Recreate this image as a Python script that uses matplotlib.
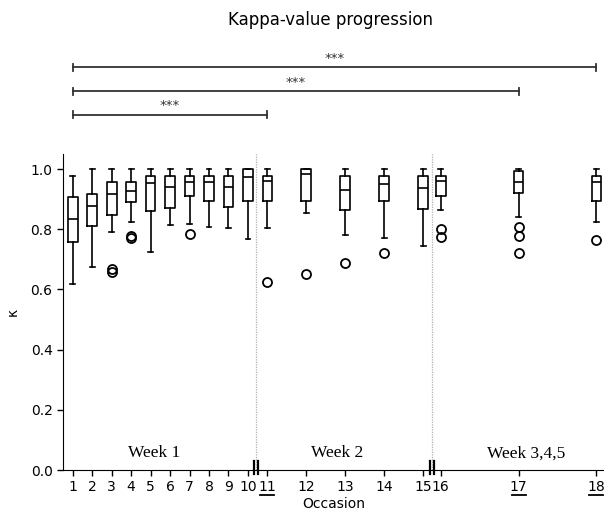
import matplotlib
matplotlib.use("Agg")
import matplotlib.pyplot as plt
import matplotlib.transforms as mtransforms

# Occasions and where they sit on the (broken) x axis
occasions = ["1", "2", "3", "4", "5", "6", "7", "8", "9", "10",
             "11", "12", "13", "14", "15", "16", "17", "18"]
positions = [1, 2, 3, 4, 5, 6, 7, 8, 9, 10,
             11, 13, 15, 17, 19, 19.9, 23.9, 27.9]
underlined = ["11", "17", "18"]

# Box statistics
whislo = [0.617, 0.675, 0.792, 0.825, 0.723, 0.814, 0.816, 0.808, 0.803, 0.766,
          0.803, 0.855, 0.781, 0.770, 0.744, 0.864, 0.842, 0.825]
q1 = [0.758, 0.811, 0.847, 0.890, 0.861, 0.871, 0.911, 0.894, 0.875, 0.894,
      0.894, 0.894, 0.864, 0.894, 0.866, 0.910, 0.922, 0.894]
med = [0.835, 0.877, 0.917, 0.927, 0.952, 0.941, 0.957, 0.957, 0.939, 0.972,
       0.959, 0.982, 0.930, 0.949, 0.936, 0.961, 0.958, 0.956]
q3 = [0.908, 0.916, 0.958, 0.958, 0.977, 0.977, 0.977, 0.977, 0.977, 1.000,
      0.977, 1.000, 0.977, 0.977, 0.977, 0.977, 0.994, 0.977]
whishi = [0.978, 1.000, 1.000, 1.000, 1.000, 1.000, 1.000, 1.000, 1.000, 1.000,
          1.000, 1.000, 1.000, 1.000, 1.000, 1.000, 1.000, 1.000]
fliers = [[], [], [0.668, 0.657], [0.777, 0.772], [], [], [0.783], [], [], [],
          [0.625], [0.650], [0.689], [0.722], [], [0.800, 0.775],
          [0.808, 0.777, 0.722], [0.764]]

# Significance brackets: occasion 1 vs these
sig_pairs = [("1", "11"), ("1", "17"), ("1", "18")]
sig_labels = ["***", "***", "***"]

weeks = ["Week 1", "Week 2", "Week 3,4,5"]
week_x = [5.2, 14.56, 24.3]
breaks_x = [10.42, 19.44]

stats = []
for i in range(len(occasions)):
    stats.append(dict(med=med[i], q1=q1[i], q3=q3[i], whislo=whislo[i],
                      whishi=whishi[i], fliers=fliers[i], label=occasions[i]))

fig = plt.figure(figsize=(6.04, 5.14), dpi=100)
ax = fig.add_axes([63 / 604, 44 / 514, 541 / 604, 316 / 514])

black = dict(color="black", linewidth=1.2)
ax.bxp(stats, positions=positions, widths=0.5,
       boxprops=black, whiskerprops=black, capprops=black,
       medianprops=black,
       flierprops=dict(marker="o", markerfacecolor="none",
                       markeredgecolor="black", markersize=6.5,
                       markeredgewidth=1.3))

ax.set_xlim(0.5, 28.29)
ax.set_ylim(0, 1.05)
ax.set_yticks([0.0, 0.2, 0.4, 0.6, 0.8, 1.0])
ax.set_yticklabels(["0.0", "0.2", "0.4", "0.6", "0.8", "1.0"], fontsize=10)
ax.set_xticks(positions)
ax.set_xticklabels(occasions, fontsize=10)
ax.tick_params(axis="both", direction="out", length=4, width=1)
ax.set_xlabel("Occasion", fontsize=10, labelpad=2)
ax.set_ylabel("κ", fontsize=10, labelpad=8)
ax.spines["top"].set_visible(False)
ax.spines["right"].set_visible(False)

# underline the compared occasions
trans = mtransforms.blended_transform_factory(ax.transData, ax.transAxes)
for o in underlined:
    px = positions[occasions.index(o)]
    ax.plot([px - 0.36, px + 0.36], [-0.08, -0.08], color="black",
            linewidth=1.3, transform=trans, clip_on=False)

# week separators and axis break marks
for bx in breaks_x:
    ax.axvline(bx, color="#b0b0b0", linewidth=0.9, linestyle=(0, (1, 1)),
               zorder=0)
    for dx in (-0.1, 0.1):
        ax.plot([bx + dx, bx + dx], [-0.013, 0.03], color="black",
                linewidth=1.6, clip_on=False, zorder=5)

for name, wx in zip(weeks, week_x):
    ax.text(wx, 0.056, name, ha="center", va="center", fontsize=12.5,
            family="Liberation Serif")

# significance brackets above the axes
sig_y = [1.181, 1.258, 1.338]
cap = 0.012
for (a, b), lab, y in zip(sig_pairs, sig_labels, sig_y):
    x0 = positions[occasions.index(a)]
    x1 = positions[occasions.index(b)]
    ax.plot([x0, x1], [y, y], color="#333333", linewidth=1.3, clip_on=False)
    ax.plot([x0, x0], [y - cap, y + cap], color="#333333", linewidth=1.3,
            clip_on=False)
    ax.plot([x1, x1], [y - cap, y + cap], color="#333333", linewidth=1.3,
            clip_on=False)
    ax.text((x0 + x1) / 2, y + 0.008, lab, ha="center", va="bottom",
            fontsize=9.5, color="#333333")

fig.text(331 / 604, 1 - 20 / 514, "Kappa-value progression", ha="center",
         va="center", fontsize=12)

fig.savefig("out.png", dpi=100)
